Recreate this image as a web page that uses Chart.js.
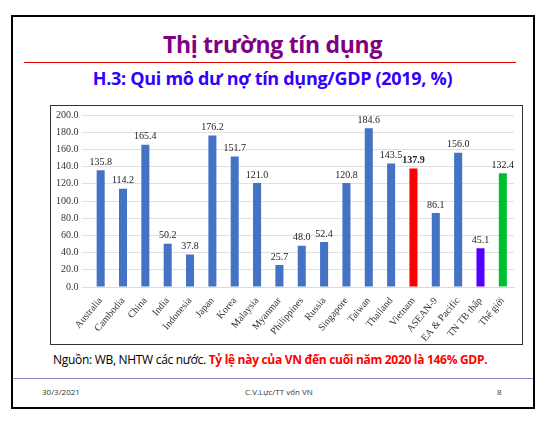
<!DOCTYPE html>
<html><head><meta charset="utf-8">
<script src="https://cdn.jsdelivr.net/npm/chart.js@4"></script>
<style>
body{margin:0;width:558px;height:422px;background:#fff;font-family:"Open Sans",sans-serif;position:relative;overflow:hidden}
#frame{position:absolute;left:11px;top:15px;width:520px;height:390px;border:2px solid #000;}
#t1{position:absolute;left:0;width:545px;top:28px;text-align:center;font:bold 23px "Open Sans",sans-serif;color:#800080;letter-spacing:-0.3px}
#rl{position:absolute;left:24px;top:62px;width:492px;height:1px;background:#e00000}
#t2{position:absolute;left:0;width:545px;top:66px;text-align:center;font:bold 18px "Open Sans",sans-serif;color:#3300ff;letter-spacing:-0.3px}
#box{position:absolute;left:50px;top:105px;width:471px;height:238px;border:1px solid #333}
#src{position:absolute;left:53px;top:351px;font:12px "Open Sans",sans-serif;color:#000;letter-spacing:-0.3px}
#src b{color:#ff0000}
#fl{position:absolute;left:13px;top:378px;width:520px;height:1px;background:#8888cc}
.f{position:absolute;top:386px;font:8px "Open Sans",sans-serif;color:#333}
</style></head><body>
<div id="frame"></div>
<div id="t1">Thị trường tín dụng</div>
<div id="rl"></div>
<div id="t2">H.3: Qui mô dư nợ tín dụng/GDP (2019, %)</div>
<div id="box"><canvas id="c" width="471" height="238"></canvas></div>
<div id="src">Nguồn: WB, NHTW các nước. <b>Tỷ lệ này của VN đến cuối năm 2020 là 146% GDP.</b></div>
<div id="fl"></div>
<div class="f" style="left:42px">30/3/2021</div>
<div class="f" style="left:245px">C.V.Lực/TT vốn VN</div>
<div class="f" style="left:497px">8</div>
<script>
const categories = ['Australia','Cambodia','China','India','Indonesia','Japan','Korea','Malaysia','Myanmar','Philippines','Russia','Singapore','Taiwan','Thailand','Vietnam','ASEAN-9','EA & Pacific','TN TB thấp','Thế giới'];
const values = [135.8,114.2,165.4,50.2,37.8,176.2,151.7,121.0,25.7,48.0,52.4,120.8,184.6,143.5,137.9,86.1,156.0,45.1,132.4];
const barColors = categories.map(c => c === 'Vietnam' ? '#ff0000' : c === 'TN TB thấp' ? '#5500ff' : c === 'Thế giới' ? '#00c030' : '#4472c4');
const yTicks = [0,20,40,60,80,100,120,140,160,180,200];

const labelPlugin = {
  id: 'labels',
  afterDatasetsDraw(chart) {
    const ctx = chart.ctx;
    chart.getDatasetMeta(0).data.forEach((bar, i) => {
      ctx.save();
      ctx.fillStyle = '#222';
      ctx.font = (categories[i] === 'Vietnam' ? 'bold ' : '') + '10px "Liberation Serif"';
      ctx.textAlign = 'center';
      ctx.textBaseline = 'bottom';
      ctx.fillText(values[i].toFixed(1), bar.x, bar.y - 3);
      ctx.restore();
    });
  }
};

new Chart(document.getElementById('c'), {
  type: 'bar',
  data: { labels: categories, datasets: [{ data: values, backgroundColor: barColors, barPercentage: 0.45, categoryPercentage: 0.8 }] },
  options: {
    responsive: false, animation: false,
    layout: { padding: { left: 2, right: 8, top: 6 } },
    plugins: { legend: { display: false }, tooltip: { enabled: false } },
    scales: {
      x: {
        grid: { display: false },
        border: { color: '#d9d9d9' },
        ticks: { color: '#333', font: { family: 'Liberation Serif', size: 10 }, maxRotation: 50, minRotation: 50, padding: 0 }
      },
      y: {
        min: 0, max: 200,
        afterBuildTicks: s => { s.ticks = yTicks.map(v => ({ value: v })); },
        grid: { color: '#e0e0e0' },
        border: { display: false },
        ticks: { color: '#333', font: { family: 'Liberation Serif', size: 10 }, callback: v => v.toFixed(1) }
      }
    }
  },
  plugins: [labelPlugin]
});
</script>
</body></html>
